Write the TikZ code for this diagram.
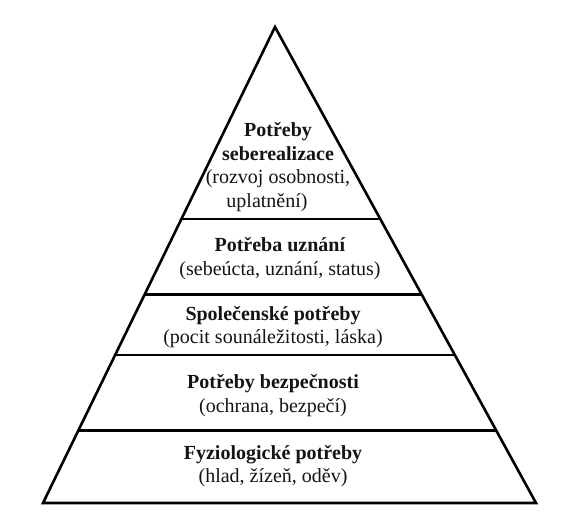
\documentclass[tikz,border=0pt]{standalone}
\usepackage{fontspec}
\setmainfont{Liberation Serif}
\usetikzlibrary{calc}
\begin{document}
\begin{tikzpicture}[x=1pt,y=-1pt,
  edge/.style={line width=2.6pt,line join=miter,line cap=butt},
  level/.style={line width=2.4pt},
  label/.style={align=center,inner sep=0pt,text=black!92,
    font=\rmfamily\fontsize{20}{23.5}\selectfont}]
  \fill[white] (0,0) rectangle (570,528);
  \useasboundingbox (0,0) rectangle (570,528);

  % outline of the pyramid
  \coordinate (apex) at (275,27);
  \coordinate (bl) at (43,503);
  \coordinate (br) at (536,503);
  \draw[edge] (apex) -- (bl) -- (br) -- cycle;

  % dividing lines between the levels
  \foreach \t [count=\i] in {0.4034,0.5620,0.6891,0.8477} {
    \coordinate (l\i) at ($(apex)!\t!(bl)$);
    \coordinate (r\i) at ($(apex)!\t!(br)$);
    \draw[level] (l\i) -- (r\i);
  }

  % level texts, from the top down
  \node[label] (n1) at (278,167) {\textbf{Potřeby}\\\textbf{seberealizace}\\(rozvoj osobnosti,\\uplatnění)\hspace*{22pt}};
  \node[label] (n2) at (280,258.5) {\textbf{Potřeba uznání}\\(sebeúcta, uznání, status)};
  \node[label] (n3) at (273,327) {\textbf{Společenské potřeby}\\(pocit sounáležitosti, láska)};
  \node[label] (n4) at (273,395.5) {\textbf{Potřeby bezpečnosti}\\(ochrana, bezpečí)};
  \node[label] (n5) at (273,466) {\textbf{Fyziologické potřeby}\\(hlad, žízeň, oděv)};
\end{tikzpicture}
\end{document}
